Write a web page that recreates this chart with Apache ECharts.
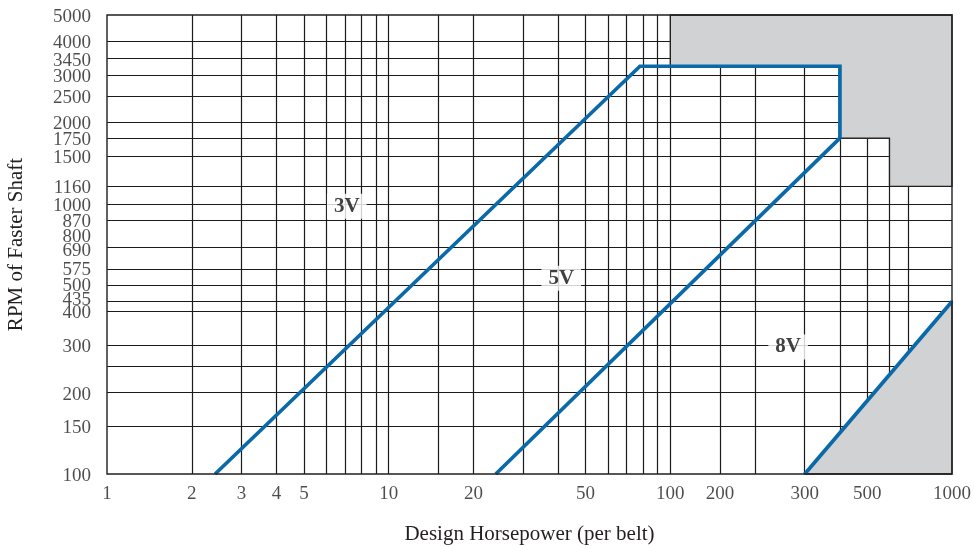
<!DOCTYPE html>
<html><head><meta charset="utf-8">
<script src="https://cdn.jsdelivr.net/npm/echarts@6/dist/echarts.min.js"></script>
<style>html,body{margin:0;padding:0;background:#fff}#c{width:974px;height:548px}</style>
</head><body><div id="c"></div>
<script>
// Gridline values (log-log chart)
const xGridValues = [2,3,4,5,6,7,8,9,10,15,20,30,40,50,60,70,80,90,100,150,200,300,400,500,600,700];
const yGridValues = [150,200,250,300,400,435,500,575,690,870,1000,1160,1500,1750,2000,2500,3000,3450,4000];
// Tick labels as printed on the chart
const xTickValues = [1,2,3,4,5,10,20,50,100,150,300,500,1000];
const xTickLabels = ['1','2','3','4','5','10','20','50','100','200','300','500','1000'];
const yTickValues = [100,150,200,300,400,435,500,575,690,800,870,1000,1160,1500,1750,2000,2500,3000,3450,4000,5000];
const yTickLabels = ['100','150','200','300','400','435','500','575','690','800','870','1000','1160','1500','1750','2000','2500','3000','3450','4000','5000'];
// Belt section boundary lines [hp, rpm]
const line3V = [[2.42,100],[78,3230],[400,3230],[400,1750]];
const line5V = [[24,100],[400,1750]];
const line8V = [[300,100],[1000,435]];
// Shaded (out of range) regions [hp, rpm]
const shadeUpper = [[100,5000],[1000,5000],[1000,1160],[600,1160],[600,1750],[400,1750],[400,3230],[100,3230]];
const shadeLower = [[300,100],[1000,100],[1000,435]];
// Section labels and their anchor points [hp, rpm]
const sectionNames = ['3V','5V','8V'];
const sectionAnchors = [[7.1,980],[41,530],[262,295]];

const INK = '#231f20';
const BLUE = '#0a69a8';
const SERIF = '"Liberation Serif","DejaVu Serif",serif';
// small vertical nudges so crowded y labels do not collide (px)
const yLabelNudge = {'800':5, '690':2, '435':-3, '500':-1, '575':-1};

const chart = echarts.init(document.getElementById('c'), null, {renderer:'canvas'});

const gridLines = [];
xGridValues.forEach(v => gridLines.push({coords:[[v,100],[v,5000]]}));
yGridValues.forEach(v => gridLines.push({coords:[[1,v],[1000,v]]}));

const shades = [shadeUpper, shadeLower];

function blueLine(data){
  return {type:'line', data:data, showSymbol:false, symbol:'none', z:5, silent:true,
    lineStyle:{color:BLUE, width:3.7, join:'miter', cap:'butt'}, clip:false, animation:false};
}

chart.setOption({
  animation:false,
  backgroundColor:'#fff',
  grid:{left:107, right:22, top:15, bottom:74, show:true, borderColor:INK, borderWidth:1.4,
    backgroundColor:'transparent', z:10, containLabel:false, outerBoundsMode:'none'},
  xAxis:{type:'log', logBase:10, min:1, max:1000,
    axisLine:{show:false}, axisTick:{show:false}, axisLabel:{show:false}, splitLine:{show:false},
    name:'Design Horsepower (per belt)', nameLocation:'middle', nameGap:50,
    nameTextStyle:{fontFamily:SERIF, fontSize:21, color:INK}},
  yAxis:{type:'log', logBase:10, min:100, max:5000,
    axisLine:{show:false}, axisTick:{show:false}, axisLabel:{show:false}, splitLine:{show:false},
    name:'RPM of Faster Shaft', nameLocation:'middle', nameGap:80, nameRotate:90,
    nameTextStyle:{fontFamily:SERIF, fontSize:21, color:INK}},
  series:[
    {type:'lines', coordinateSystem:'cartesian2d', data:gridLines, silent:true, z:1,
      lineStyle:{color:'#1c1a1a', width:1.2, opacity:1}, effect:{show:false}},
    {type:'custom', coordinateSystem:'cartesian2d', silent:true, z:2, clip:false,
      data: shades.map((p,i)=>[p[0][0], p[0][1], i]),
      renderItem:function(params, api){
        const poly = shades[params.dataIndex];
        return {type:'polygon', shape:{points: poly.map(pt=>api.coord(pt))},
          style:{fill:'#d1d2d4', stroke:INK, lineWidth:1.3}};
      }},
    blueLine(line3V), blueLine(line5V), blueLine(line8V),
    {type:'scatter', symbolSize:0, silent:true, z:8, clip:false,
      data: sectionAnchors.map((p,i)=>({value:p, name:sectionNames[i]})),
      label:{show:true, position:'inside', formatter:'{b}', fontFamily:SERIF, fontWeight:'bold',
        fontSize:21, color:'#111', backgroundColor:'#fff', padding:[3,7,1,7]}},
    {type:'scatter', symbolSize:0, silent:true, z:8, clip:false,
      data: xTickValues.map((v,i)=>({value:[v,100], name:xTickLabels[i]})),
      label:{show:true, position:'bottom', distance:11, formatter:'{b}', fontFamily:SERIF,
        fontSize:19, color:INK}},
    {type:'scatter', symbolSize:0, silent:true, z:8, clip:false,
      data: yTickValues.map((v,i)=>({value:[1,v], name:yTickLabels[i],
        label:{offset:[0, 2 + (yLabelNudge[yTickLabels[i]] || 0)]}})),
      label:{show:true, position:'left', distance:16, formatter:'{b}', fontFamily:SERIF,
        fontSize:19, color:INK, lineHeight:14}}
  ]
});
</script></body></html>
